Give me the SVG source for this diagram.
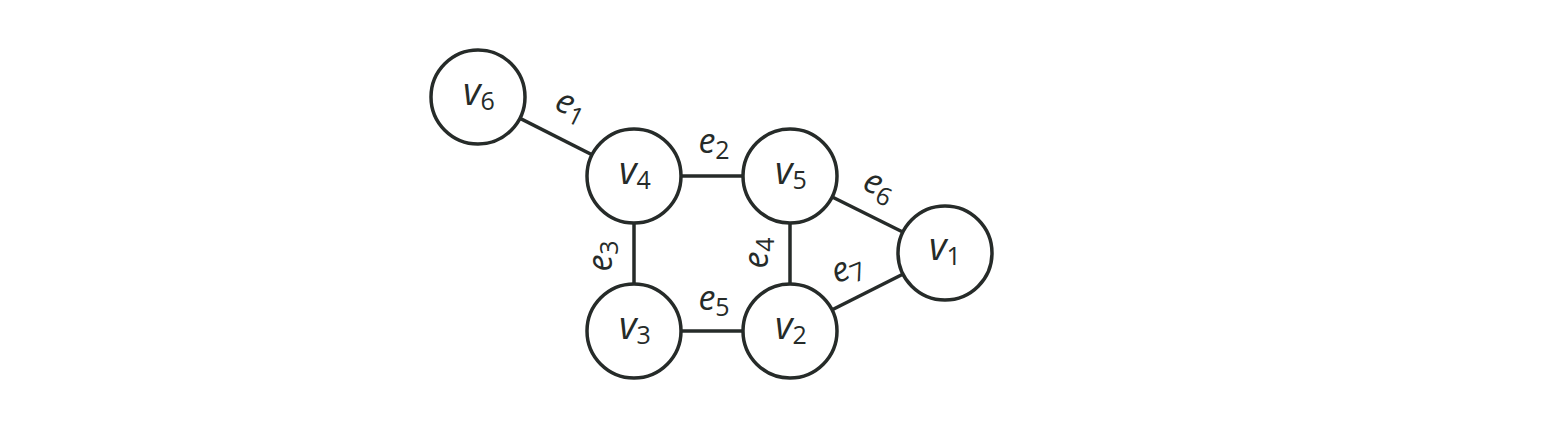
<svg xmlns="http://www.w3.org/2000/svg" width="1560" height="426" viewBox="0 0 1560 426">
<style>
.n{fill:#fff;stroke:#262b29;stroke-width:3.5}
.c line{stroke:#262b29;stroke-width:3.5}
text{font-family:"Open Sans","DejaVu Sans",sans-serif;fill:#262b29}
.v{font-size:38px;font-style:italic}
.e{font-size:34px;font-style:italic}
.s{font-style:normal;font-size:25px}
</style>
<rect width="1560" height="426" fill="#fff"/>
<g id="connectors" class="c">
<line x1="478" y1="97" x2="634" y2="176"/>
<line x1="634" y1="176" x2="790" y2="176"/>
<line x1="634" y1="176" x2="634" y2="331"/>
<line x1="790" y1="176" x2="790" y2="331"/>
<line x1="634" y1="331" x2="790" y2="331"/>
<line x1="790" y1="176" x2="945" y2="253"/>
<line x1="790" y1="331" x2="945" y2="253"/>
</g>
<g id="edge-labels">
<text class="e" transform="translate(567,115) rotate(26)" text-anchor="middle">e<tspan class="s" dy="6">1</tspan></text>
<text class="e" transform="translate(714,153)" text-anchor="middle">e<tspan class="s" dy="6">2</tspan></text>
<text class="e" transform="translate(612,256) rotate(-90)" text-anchor="middle">e<tspan class="s" dy="6">3</tspan></text>
<text class="e" transform="translate(768,253) rotate(-90)" text-anchor="middle">e<tspan class="s" dy="6">4</tspan></text>
<text class="e" transform="translate(714,310)" text-anchor="middle">e<tspan class="s" dy="6">5</tspan></text>
<text class="e" transform="translate(875,195) rotate(26)" text-anchor="middle">e<tspan class="s" dy="6">6</tspan></text>
<text class="e" transform="translate(851,278) rotate(-22)" text-anchor="middle">e<tspan class="s" dy="6">7</tspan></text>
</g>
<g id="v6"><circle class="n" cx="478" cy="97" r="47"/><text class="v" x="479" y="105" text-anchor="middle">v<tspan class="s" dy="5">6</tspan></text></g>
<g id="v4"><circle class="n" cx="634" cy="176" r="47"/><text class="v" x="635" y="184" text-anchor="middle">v<tspan class="s" dy="5">4</tspan></text></g>
<g id="v5"><circle class="n" cx="790" cy="176" r="47"/><text class="v" x="791" y="184" text-anchor="middle">v<tspan class="s" dy="5">5</tspan></text></g>
<g id="v1"><circle class="n" cx="945" cy="253" r="47"/><text class="v" x="945" y="260" text-anchor="middle">v<tspan class="s" dy="5">1</tspan></text></g>
<g id="v3"><circle class="n" cx="634" cy="331" r="47"/><text class="v" x="635" y="339" text-anchor="middle">v<tspan class="s" dy="5">3</tspan></text></g>
<g id="v2"><circle class="n" cx="790" cy="331" r="47"/><text class="v" x="791" y="339" text-anchor="middle">v<tspan class="s" dy="5">2</tspan></text></g>
</svg>
